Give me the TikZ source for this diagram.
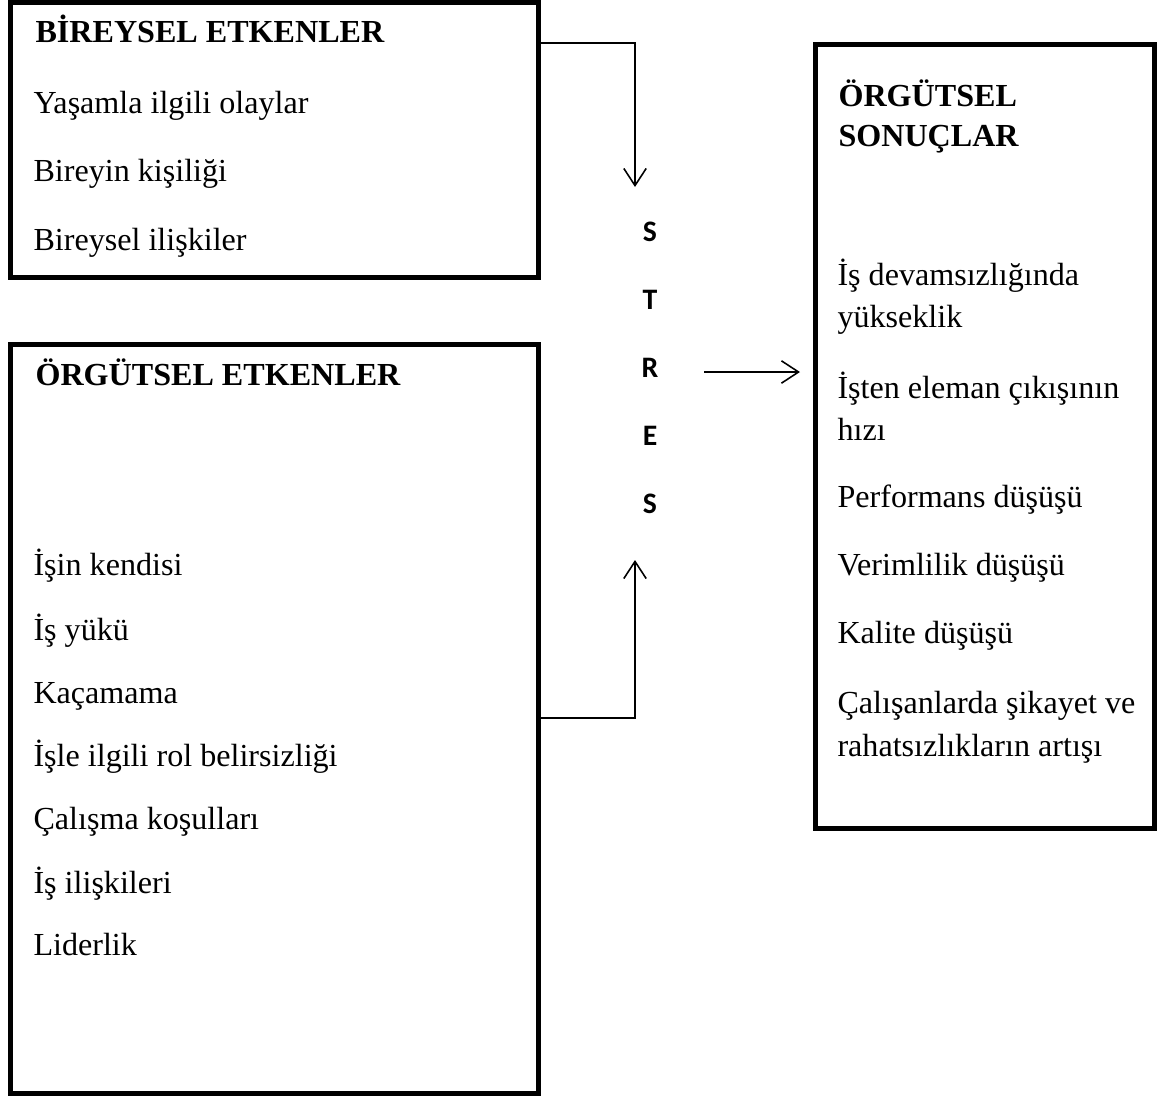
\documentclass[tikz,border=0pt]{standalone}
\usepackage{fontspec}
\setmainfont{Liberation Serif}
\newfontfamily\stressfont{Carlito}
\usepackage{tikz}
\usetikzlibrary{positioning,arrows.meta,calc,fit}

\tikzset{
  box/.style={draw, line width=1.9pt, inner sep=0pt},
  head/.style={anchor=base west, inner sep=0pt, font=\fontsize{12.2}{15.9}\selectfont\bfseries},
  item/.style={anchor=base west, inner sep=0pt, font=\fontsize{12.2}{15.9}\selectfont},
  letter/.style={inner sep=0pt, font=\fontsize{11.3}{13}\selectfont\stressfont\bfseries},
  arr/.style={-{Straight Barb[length=6.5pt,width=8.5pt]}, line width=0.6pt}
}

\begin{document}
\begin{tikzpicture}[x=0.38pt, y=-0.38pt]
  \useasboundingbox (0,0) rectangle (1162,1096);

  % Top left: individual factors
  \node[box, fit={(10.5,2) (538.5,277)}] (bir) {};
  \node[head] (bir-h) at (35,42) {BİREYSEL ETKENLER};
  \node[item] (bir-1) at (33,113) {Yaşamla ilgili olaylar};
  \node[item] (bir-2) at (33,181) {Bireyin kişiliği};
  \node[item] (bir-3) at (33,250) {Bireysel ilişkiler};

  % Bottom left: organisational factors
  \node[box, fit={(10.5,344.5) (538.5,1093)}] (org) {};
  \node[head] (org-h) at (35,385) {ÖRGÜTSEL ETKENLER};
  \node[item] (org-1) at (33,575) {İşin kendisi};
  \node[item] (org-2) at (33,640) {İş yükü};
  \node[item] (org-3) at (33,703) {Kaçamama};
  \node[item] (org-4) at (33,766) {İşle ilgili rol belirsizliği};
  \node[item] (org-5) at (33,829) {Çalışma koşulları};
  \node[item] (org-6) at (33,893) {İş ilişkileri};
  \node[item] (org-7) at (33,955) {Liderlik};

  % Right: organisational results
  \node[box, fit={(815.5,44.5) (1154.5,828.5)}] (son) {};
  \node[head] (son-h1) at (838,106) {ÖRGÜTSEL};
  \node[head] (son-h2) at (838,146) {SONUÇLAR};
  \node[item] (son-1a) at (837,285) {İş devamsızlığında};
  \node[item] (son-1b) at (837,327) {yükseklik};
  \node[item] (son-2a) at (837,398) {İşten eleman çıkışının};
  \node[item] (son-2b) at (837,440) {hızı};
  \node[item] (son-3) at (837,507) {Performans düşüşü};
  \node[item] (son-4) at (837,575) {Verimlilik düşüşü};
  \node[item] (son-5) at (837,643) {Kalite düşüşü};
  \node[item] (son-6a) at (837,713) {Çalışanlarda şikayet ve};
  \node[item] (son-6b) at (837,756) {rahatsızlıkların artışı};

  % Middle: stress
  \node[letter] (s1) at (650,232) {S};
  \node[letter] (s2) at (650,300) {T};
  \node[letter] (s3) at (650,368) {R};
  \node[letter] (s4) at (650,436) {E};
  \node[letter] (s5) at (650,504) {S};

  % Arrows
  \coordinate (in-top) at (635,187);
  \coordinate (in-bot) at (635,560);
  \coordinate (out-l) at (704,372);
  \coordinate (out-r) at (800,372);
  \draw[arr] (bir.east |- 0,43) -| (in-top);
  \draw[arr] (org.east |- 0,718) -| (in-bot);
  \draw[arr] (out-l) -- (out-r);
\end{tikzpicture}
\end{document}
